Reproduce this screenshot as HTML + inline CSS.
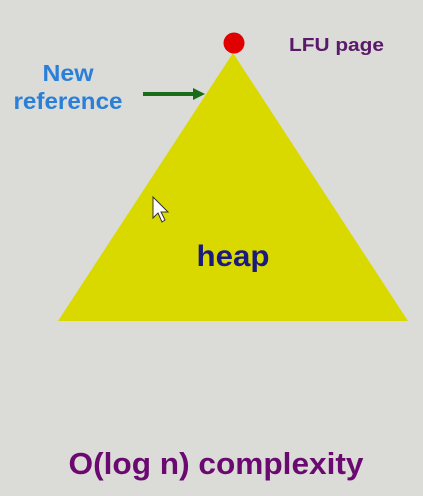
<!DOCTYPE html>
<html><head><style>
html,body{margin:0;padding:0;background:#dbdbd7;}
</style></head><body>
<svg width="423" height="496" viewBox="0 0 423 496" xmlns="http://www.w3.org/2000/svg" style="display:block">
<rect width="423" height="496" fill="#dbdbd7"/>
<polygon points="233,53 58,321 408,321" fill="#d9d900"/>
<circle cx="234" cy="43" r="10.5" fill="#e00000"/>
<line x1="143" y1="94" x2="195" y2="94" stroke="#1a6b1a" stroke-width="4"/>
<polygon points="193,88 205,94 193,100" fill="#1a6b1a"/>
<g font-family="Liberation Sans, sans-serif" font-weight="bold">
<text x="68" y="81" text-anchor="middle" font-size="23" fill="#2a7fd8" textLength="51" lengthAdjust="spacingAndGlyphs">New</text>
<text x="68" y="109" text-anchor="middle" font-size="23" fill="#2a7fd8" textLength="109" lengthAdjust="spacingAndGlyphs">reference</text>
<text x="289" y="51" font-size="18" fill="#5a1a6a" textLength="95" lengthAdjust="spacingAndGlyphs">LFU page</text>
<text x="233" y="266" text-anchor="middle" font-size="30" fill="#1a1a80" textLength="73" lengthAdjust="spacingAndGlyphs">heap</text>
<text x="216" y="474" text-anchor="middle" font-size="31" fill="#6a0a70" textLength="295" lengthAdjust="spacingAndGlyphs">O(log n) complexity</text>
</g>
<path d="M153,197 L153,218 L158,213 L162,222 L165,220 L161,212 L168,212 Z" fill="#fff" stroke="#333" stroke-width="1"/>
</svg>
</body></html>
